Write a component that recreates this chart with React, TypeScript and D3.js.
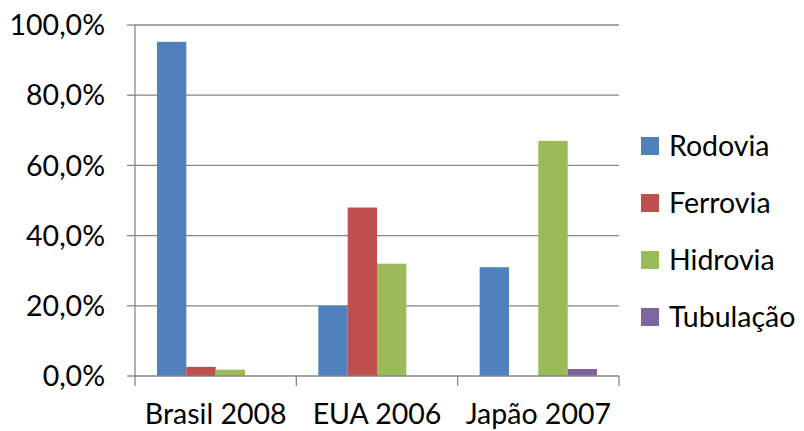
import React, { useEffect, useRef } from "react";
import * as d3 from "d3";

const categories = ["Brasil 2008", "EUA 2006", "Japão 2007"];
const seriesNames = ["Rodovia", "Ferrovia", "Hidrovia", "Tubulação"];
const seriesColors = ["#4F81BD", "#C0504D", "#9BBB59", "#8064A2"];
// values in percent, one array per series (Brasil, EUA, Japão)
const rodovia = [95.2, 20.0, 31.0];
const ferrovia = [2.6, 48.0, 0];
const hidrovia = [1.8, 32.0, 67.0];
const tubulacao = [0, 0, 2.0];
const yTicks = [0, 20, 40, 60, 80, 100];

const FONT = "Lato, 'Open Sans', sans-serif";
const FS = "28.5px";

export default function App() {
  const svgRef = useRef<SVGSVGElement>(null);

  useEffect(() => {
    if (!svgRef.current) return;
    const root = d3.select(svgRef.current);
    root.selectAll("*").remove();

    const left = 135, right = 619, top = 25, bottom = 376;
    const series = [rodovia, ferrovia, hidrovia, tubulacao];

    const x0 = d3.scaleBand().domain(categories).range([left, right]).padding(0);
    const gap = x0.bandwidth() * (1.5 / 5.5) / 2;
    const x1 = d3.scaleBand().domain(seriesNames).range([gap, x0.bandwidth() - gap]).padding(0);
    const y = d3.scaleLinear().domain([0, 100]).range([bottom, top]);

    const g = root.append("g");

    // gridlines
    g.selectAll("line.grid").data(yTicks.filter(t => t > 0)).join("line")
      .attr("x1", left).attr("x2", right)
      .attr("y1", d => y(d)).attr("y2", d => y(d))
      .attr("stroke", "#868686").attr("stroke-width", 1.3);

    // bars
    series.forEach((vals, si) => {
      g.selectAll(`rect.s${si}`).data(vals).join("rect")
        .attr("x", (_, i) => (x0(categories[i]) as number) + (x1(seriesNames[si]) as number))
        .attr("width", x1.bandwidth())
        .attr("y", d => y(d))
        .attr("height", d => bottom - y(d))
        .attr("fill", seriesColors[si]);
    });

    // y axis
    g.append("line").attr("x1", left).attr("x2", left).attr("y1", top).attr("y2", bottom)
      .attr("stroke", "#868686").attr("stroke-width", 1.3);
    g.selectAll("line.yt").data(yTicks).join("line")
      .attr("x1", left - 8).attr("x2", left)
      .attr("y1", d => y(d)).attr("y2", d => y(d))
      .attr("stroke", "#868686").attr("stroke-width", 1.3);
    g.selectAll("text.yl").data(yTicks).join("text")
      .attr("x", 105).attr("y", d => y(d)).attr("dy", "0.36em")
      .attr("text-anchor", "end")
      .style("font-family", FONT).style("font-size", FS).attr("fill", "#000")
      .text(d => d3.format(".1f")(d).replace(".", ",") + "%");

    // x axis
    g.append("line").attr("x1", left).attr("x2", right).attr("y1", bottom).attr("y2", bottom)
      .attr("stroke", "#868686").attr("stroke-width", 1.3);
    const xt = [...categories.map(c => x0(c) as number), right];
    g.selectAll("line.xt").data(xt).join("line")
      .attr("x1", d => d).attr("x2", d => d)
      .attr("y1", bottom).attr("y2", bottom + 10)
      .attr("stroke", "#868686").attr("stroke-width", 1.3);
    g.selectAll("text.xl").data(categories).join("text")
      .attr("x", d => (x0(d) as number) + x0.bandwidth() / 2).attr("y", 424)
      .attr("text-anchor", "middle")
      .style("font-family", FONT).style("font-size", FS).attr("fill", "#000")
      .text(d => d);

    // legend
    const lg = g.selectAll("g.lg").data(seriesNames).join("g")
      .attr("transform", (_, i) => `translate(641,${146 + i * 57})`);
    lg.append("rect").attr("x", 0).attr("y", -9).attr("width", 18).attr("height", 18)
      .attr("fill", (_, i) => seriesColors[i]);
    lg.append("text").attr("x", 28).attr("dy", "0.36em")
      .style("font-family", FONT).style("font-size", FS).attr("fill", "#000")
      .text(d => d);
  }, []);

  return (
    <svg ref={svgRef} width={804} height={431}
      style={{ position: "absolute", left: 0, top: 0, background: "#fff" }} />
  );
}
